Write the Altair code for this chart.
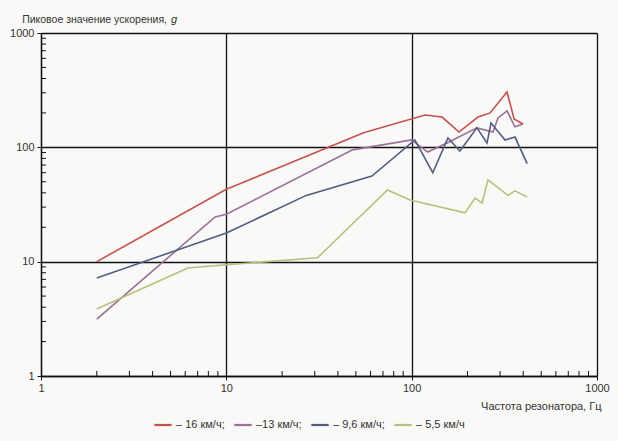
import altair as alt
import pandas as pd

# ---- data ----
series_names = ["– 16 км/ч;", "–13 км/ч;", "– 9,6 км/ч;", "– 5,5 км/ч"]
series_colors = ["#c8504c", "#9c7096", "#505e82", "#b0c47a"]

red_f = [2, 10, 55, 118, 146, 180, 228, 265, 327, 357, 399]
red_g = [10, 43, 134, 192, 184, 136, 184, 200, 305, 177, 160]

purple_f = [2, 8.7, 10, 48, 100, 122, 155, 225, 275, 292, 327, 361, 399]
purple_g = [3.15, 24.6, 26, 95, 116, 91, 109, 148, 136, 181, 208, 151, 160]

blue_f = [2, 10, 27, 61, 104, 130, 157, 182, 225, 255, 268, 319, 361, 420]
blue_g = [7.2, 17.8, 38, 56, 116, 60, 121, 93, 148, 109, 163, 116, 123, 72]

green_f = [2, 6.2, 10, 31, 74, 98, 194, 220, 240, 258, 331, 361, 420]
green_g = [3.86, 8.8, 9.4, 10.8, 42.4, 34.6, 26.7, 36, 32.7, 52, 38, 41.6, 36.8]

major_ticks = [1, 10, 100, 1000]
minor_ticks = [m * d for d in (1, 10, 100) for m in range(2, 10)]

x_title = "Частота резонатора, Гц"
y_title = "Пиковое значение ускорения,"
y_title_italic = "g"

# ---- build tables ----
rows = []
for name, fs, gs in zip(series_names,
                        [red_f, purple_f, blue_f, green_f],
                        [red_g, purple_g, blue_g, green_g]):
    for i, (f, g) in enumerate(zip(fs, gs)):
        rows.append({"series": name, "f": f, "g": g, "order": i})
df = pd.DataFrame(rows)
minor_df = pd.DataFrame({"v": minor_ticks})

W, H = 556, 343
FONT = "Liberation Sans"
TXT = "#333333"

xscale = alt.Scale(type="log", domain=[1, 1000])
yscale = alt.Scale(type="log", domain=[1, 1000])

lines = alt.Chart(df).mark_line(strokeWidth=1.6).encode(
    x=alt.X("f:Q", scale=xscale,
            axis=alt.Axis(values=major_ticks, title=x_title, format="d",
                          grid=True, gridColor="#111111", gridWidth=1.3,
                          domainColor="#111111", domainWidth=1.3,
                          tickColor="#111111", tickSize=4,
                          labelFont=FONT, labelFontSize=11, labelColor=TXT,
                          labelPadding=2, labelFlush=False,
                          titleFont=FONT, titleFontSize=11, titleColor=TXT,
                          titleFontWeight="normal",
                          titleAnchor="end", titleAlign="right",
                          titleX=W + 4, titleY=24)),
    y=alt.Y("g:Q", scale=yscale,
            axis=alt.Axis(values=major_ticks, title=None, format="d",
                          grid=True, gridColor="#111111", gridWidth=1.3,
                          domainColor="#111111", domainWidth=1.3,
                          tickColor="#111111", tickSize=4,
                          labelFont=FONT, labelFontSize=11, labelColor=TXT,
                          labelPadding=3, labelFlush=False)),
    color=alt.Color("series:N",
                    scale=alt.Scale(domain=series_names, range=series_colors),
                    legend=alt.Legend(title=None, orient="none",
                                      direction="horizontal",
                                      legendX=112, legendY=382,
                                      symbolType="stroke", symbolSize=300,
                                      symbolStrokeWidth=2.2,
                                      labelFont=FONT, labelFontSize=11,
                                      labelColor=TXT, labelOffset=3,
                                      columnPadding=4)),
    order="order:Q",
)

minor_x = alt.Chart(minor_df).mark_rule(color="#111111", strokeWidth=1).encode(
    x=alt.X("v:Q", scale=xscale),
    y=alt.value(H - 5),
    y2=alt.value(H),
)
minor_y = alt.Chart(minor_df).mark_rule(color="#111111", strokeWidth=1).encode(
    y=alt.Y("v:Q", scale=yscale),
    x=alt.value(0),
    x2=alt.value(5),
)

title_main = alt.Chart(pd.DataFrame({"t": [y_title]})).mark_text(
    font=FONT, fontSize=10.5, color=TXT, align="right", baseline="middle",
).encode(text="t:N", x=alt.value(126), y=alt.value(-13))

g_text = alt.Chart(pd.DataFrame({"t": [y_title_italic]})).mark_text(
    font=FONT, fontSize=11, fontStyle="italic", color=TXT,
    align="left", baseline="middle",
).encode(text="t:N", x=alt.value(130), y=alt.value(-13))

chart = alt.layer(lines, minor_x, minor_y, title_main, g_text).properties(
    width=W, height=H,
    autosize=alt.AutoSizeParams(type="none"),
    padding={"left": 41, "top": 33, "right": 21, "bottom": 65},
    background="#f9f9f7",
).configure_view(stroke=None)

chart.save("out.html", embed_options={"renderer": "svg", "actions": False})
